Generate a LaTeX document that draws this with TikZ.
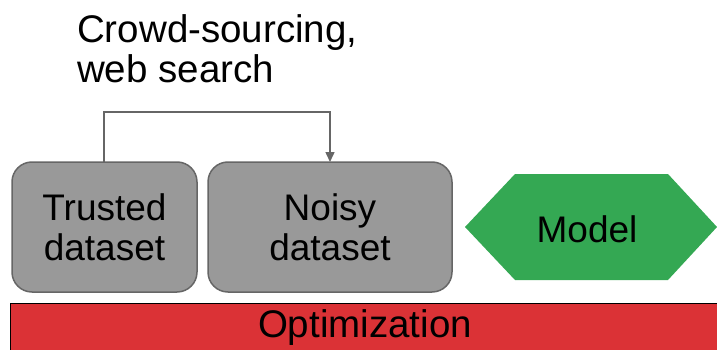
\documentclass[tikz,border=0pt]{standalone}
\usepackage{fontspec}
\setmainfont{Liberation Sans}
\usetikzlibrary{arrows.meta}
\definecolor{boxgray}{HTML}{999999}
\definecolor{edgegray}{HTML}{666666}
\definecolor{modelgreen}{HTML}{34A853}
\definecolor{optred}{HTML}{DB3236}
\begin{document}
\begin{tikzpicture}[x=1pt,y=-1pt,
  lbl/.style={font=\fontsize{37}{40}\selectfont, text=black, align=center, inner sep=0pt},
  biglbl/.style={font=\fontsize{38.5}{40}\selectfont, text=black, inner sep=0pt},
  databox/.style={fill=boxgray, draw=edgegray, line width=1.5pt, rounded corners=20pt},
  conn/.style={draw=edgegray, line width=1.5pt, -{Triangle[length=10pt,width=9pt]}}]
\useasboundingbox (0,0) rectangle (717,350);
% boxes
\draw[databox] (12,162) rectangle (197,292);
\node[lbl] (trusted) at (104.5,227) {Trusted\\dataset};
\coordinate (ttop) at (104,162);
\draw[databox] (208,162) rectangle (452,292);
\node[lbl] (noisy) at (330,227) {Noisy\\dataset};
\coordinate (ntop) at (330,162);
% model hexagon
\fill[modelgreen] (465,227) -- (515,174) -- (668,174) -- (717,227) -- (668,280) -- (515,280) -- cycle;
\node[lbl] (model) at (587,229) {Model};
% optimization bar
\draw[fill=optred, draw=black, line width=1pt] (10,303) rectangle (720,352);
\node[biglbl] (opt) at (365,328) {Optimization};
% label
\node[biglbl, align=left, anchor=north west] (crowd) at (77,14) {Crowd-sourcing,\\web search};
% connector
\draw[conn] (ttop) -- (104,112) -- (330,112) -- (ntop);
\end{tikzpicture}
\end{document}
